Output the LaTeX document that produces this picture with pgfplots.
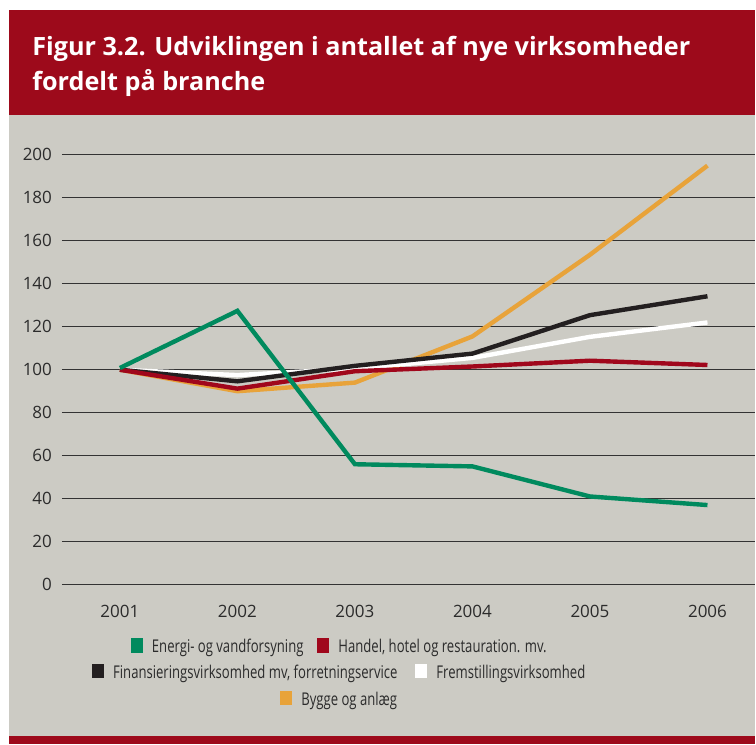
\documentclass[border=0pt]{standalone}
\usepackage{pgfplots}
\pgfplotsset{compat=1.18}
\usepackage{fontspec}
\setmainfont{Open Sans}
\newfontfamily\legfont{Open Sans}[FakeStretch=0.745]
\newfontfamily\titlefont{Open Sans}
\definecolor{bandred}{HTML}{9D0A1B}
\definecolor{bggray}{HTML}{CCCBC4}
\definecolor{txt}{HTML}{2B2B2B}
\definecolor{cgreen}{HTML}{008A5E}
\definecolor{cred}{HTML}{A0071C}
\definecolor{cblack}{HTML}{231F20}
\definecolor{corange}{HTML}{E8A33A}

% 1 px of the reference = 0.5pt
\begin{document}
\begin{tikzpicture}
\fill[white] (0,0) rectangle (378pt,-372.5pt);
\fill[bandred] (4.5pt,-5pt) rectangle (378pt,-57.5pt);
\fill[bggray] (4.5pt,-57.5pt) rectangle (378pt,-368.5pt);
\fill[bandred] (4.5pt,-368.5pt) rectangle (378pt,-372.5pt);

\node[anchor=base west, text=white, font=\titlefont\fontsize{12.6}{14}\selectfont\bfseries, inner sep=0]
  at (16pt,-28pt) {Figur 3.2. Udviklingen i antallet af nye virksomheder};
\node[anchor=base west, text=white, font=\titlefont\fontsize{12.6}{14}\selectfont\bfseries, inner sep=0]
  at (16pt,-45.3pt) {fordelt på branche};

\begin{axis}[
  at={(31pt,-292.5pt)}, anchor=south west,
  scale only axis,
  width=347pt, height=215pt,
  xmin=2000.507, xmax=2006.408,
  ymin=0, ymax=200,
  xtick={2001,2002,2003,2004,2005,2006},
  ytick={0,20,...,200},
  axis line style={draw=none},
  major tick length=0pt,
  ymajorgrids,
  grid style={line width=0.6pt, color=black!80},
  tick label style={font=\fontsize{8.5}{10}\selectfont, text=txt},
  /pgf/number format/assume math mode=true,
  xticklabel style={/pgf/number format/1000 sep={}, yshift=-7pt},
  yticklabel style={xshift=-1.5pt},
  clip=false,
  every axis plot/.append style={line width=2.2pt, line join=miter, mark=none},
]
\addplot[corange] coordinates {(2001,100) (2002,90) (2003,94) (2004,115.5) (2005,153.5) (2006,195)};
\addplot[white] coordinates {(2001,100) (2002,97.5) (2003,100.5) (2004,105.5) (2005,115.3) (2006,122)};
\addplot[cblack] coordinates {(2001,100) (2002,94.6) (2003,101.8) (2004,107.5) (2005,125.4) (2006,134.2)};
\addplot[cred] coordinates {(2001,100) (2002,91.2) (2003,99.3) (2004,101.5) (2005,104.2) (2006,102.2)};
\addplot[cgreen] coordinates {(2001,100.8) (2002,127.4) (2003,56) (2004,55) (2005,41) (2006,37)};
\end{axis}

% legend
\tikzset{legrow/.style={anchor=base, inner sep=0, text=txt, font=\legfont\fontsize{8.8}{10}\selectfont}}
\newcommand{\key}[1]{{\color{#1}\rule{6pt}{7.2pt}}\hspace{4.5pt}}
\node[legrow] at (169.5pt,-326.6pt) {\key{cgreen}Energi- og vandforsyning\hspace{7pt}\key{cred}Handel, hotel og restauration. mv.};
\node[legrow] at (169.5pt,-339.5pt) {\key{cblack}Finansieringsvirksomhed mv, forretningservice\hspace{9pt}\key{white}Fremstillingsvirksomhed};
\node[legrow] at (169.5pt,-352.9pt) {\key{corange}Bygge og anlæg};
\end{tikzpicture}
\end{document}
